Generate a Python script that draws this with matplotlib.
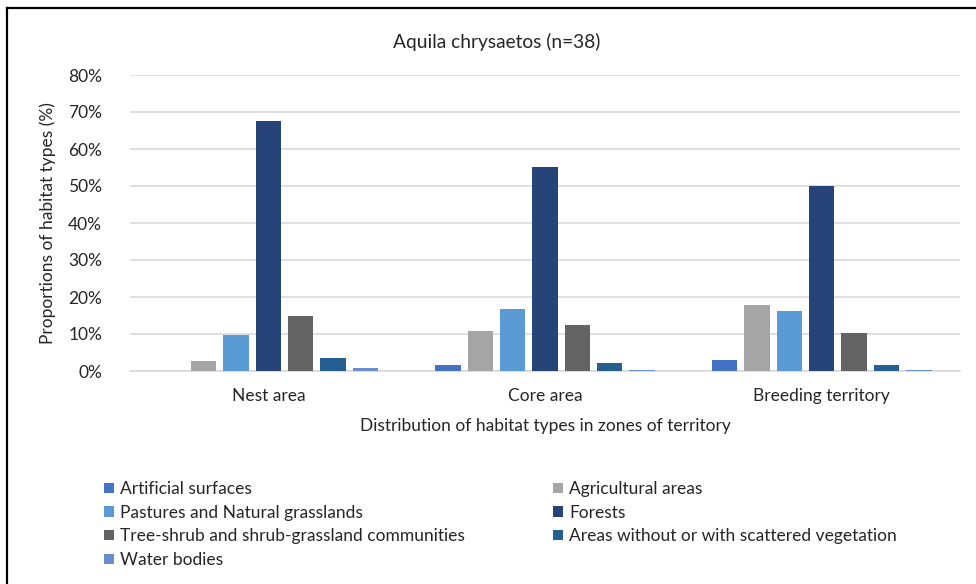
import matplotlib

matplotlib.use("Agg")

import matplotlib.pyplot as plt
import numpy as np
from matplotlib.lines import Line2D
from matplotlib.patches import Patch
from matplotlib.ticker import PercentFormatter

plt.rcParams["font.family"] = ["Lato", "DejaVu Sans"]

zones = ["Nest area", "Core area", "Breeding territory"]
habitats = [
    "Artificial surfaces",
    "Agricultural areas",
    "Pastures and Natural grasslands",
    "Forests",
    "Tree-shrub and shrub-grassland communities",
    "Areas without or with scattered vegetation",
    "Water bodies",
]
colors = ["#4472C4", "#A5A5A5", "#5B9BD5", "#264478", "#636363", "#255E91", "#698ED0"]

# share of each habitat type (%) per zone
artificial = [0.0, 1.5, 2.9]
agricultural = [2.6, 10.9, 17.8]
pastures = [9.8, 16.7, 16.1]
forests = [67.5, 55.1, 50.0]
tree_shrub = [14.9, 12.3, 10.2]
bare = [3.6, 2.1, 1.5]
water = [0.8, 0.2, 0.2]
values = [artificial, agricultural, pastures, forests, tree_shrub, bare, water]

TEXT = "#262626"
FS = 12.5
W, H = 976, 584

fig = plt.figure(figsize=(W / 100, H / 100), dpi=100)
ax = fig.add_axes([130 / W, 1 - 371 / H, 830 / W, 296 / H])

x = np.arange(len(zones))
step = 0.117
width = 0.092
for i, (name, vals, c) in enumerate(zip(habitats, values, colors)):
    ax.bar(x + (i - 3) * step, vals, width, color=c, label=name, zorder=3)

ax.set_xlim(-0.5, 2.5)
ax.set_ylim(0, 80)
ax.set_yticks(np.arange(0, 81, 10))
ax.yaxis.set_major_formatter(PercentFormatter(decimals=0))
ax.set_xticks(x)
ax.set_xticklabels(zones)
ax.grid(axis="y", color="#D9D9D9", linewidth=1.2, zorder=0)
for side in ["top", "right", "left"]:
    ax.spines[side].set_visible(False)
ax.spines["bottom"].set_color("#D9D9D9")
ax.spines["bottom"].set_linewidth(1.2)
ax.tick_params(length=0, labelsize=FS, colors=TEXT)
ax.tick_params(axis="x", pad=12)
ax.tick_params(axis="y", pad=20)

ax.set_xlabel("Distribution of habitat types in zones of territory",
              fontsize=FS, color=TEXT, labelpad=10)
ax.set_ylabel("Proportions of habitat types (%)", fontsize=FS, color=TEXT,
              labelpad=9)
fig.text(497 / W, 1 - 42 / H, "Aquila chrysaetos (n=38)", fontsize=13.8,
         color=TEXT, ha="center", va="center")

# legend laid out row by row in two columns
handles = [Patch(facecolor=c, label=n) for n, c in zip(habitats, colors)]
leg_kw = dict(loc="upper left", frameon=False, fontsize=FS, handlelength=0.55,
              handleheight=0.55, handletextpad=0.4, labelspacing=0.44,
              borderpad=0, borderaxespad=0, labelcolor=TEXT)
fig.legend(handles=handles[0::2], bbox_to_anchor=(104 / W, 1 - 481 / H), **leg_kw)
fig.legend(handles=handles[1::2], bbox_to_anchor=(553 / W, 1 - 481 / H), **leg_kw)

# outer frame (left and top edges)
fig.add_artist(Line2D([7 / W, 7 / W], [0, 1 - 8 / H], color="black",
                      linewidth=1.6, transform=fig.transFigure))
fig.add_artist(Line2D([7 / W, 1], [1 - 8 / H, 1 - 8 / H], color="black",
                      linewidth=1.6, transform=fig.transFigure))

fig.savefig("out.png", dpi=100)
